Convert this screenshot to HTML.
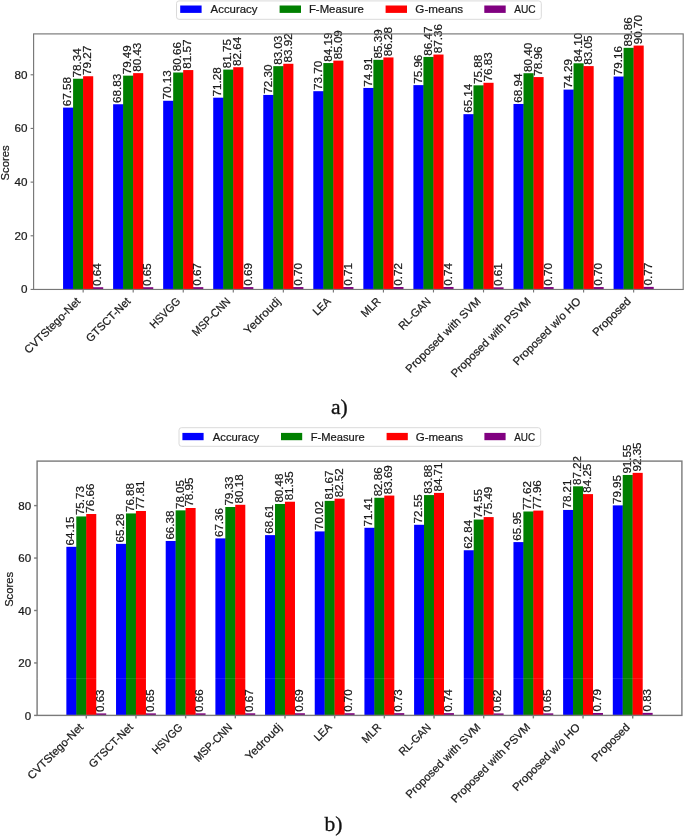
<!DOCTYPE html>
<html><head><meta charset="utf-8"><title>Scores comparison</title>
<style>html,body{margin:0;padding:0;background:#fff;} svg{display:block;will-change:transform;filter:blur(0.35px);} text{font-family:"Liberation Sans", sans-serif;fill:#1a1a1a;stroke:#1a1a1a;stroke-width:0.22px;}</style>
</head><body>
<svg width="685" height="837" viewBox="0 0 685 837">
<rect width="685" height="837" fill="#fff"/>
<rect x="63.08" y="107.61" width="10.11" height="181.84" fill="#0000ff"/>
<rect x="73.09" y="107.61" width="0.6" height="181.84" fill="#0000ff"/>
<rect x="73.09" y="78.74" width="10.11" height="210.71" fill="#008000"/>
<rect x="83.10" y="78.74" width="0.6" height="210.71" fill="#008000"/>
<rect x="83.10" y="76.24" width="10.11" height="213.21" fill="#ff0000"/>
<rect x="93.11" y="287.23" width="0.6" height="2.22" fill="#ff0000"/>
<rect x="93.11" y="287.23" width="10.11" height="2.22" fill="#800080"/>
<rect x="113.12" y="104.25" width="10.11" height="185.20" fill="#0000ff"/>
<rect x="123.13" y="104.25" width="0.6" height="185.20" fill="#0000ff"/>
<rect x="123.13" y="75.65" width="10.11" height="213.80" fill="#008000"/>
<rect x="133.14" y="75.65" width="0.6" height="213.80" fill="#008000"/>
<rect x="133.14" y="73.13" width="10.11" height="216.32" fill="#ff0000"/>
<rect x="143.15" y="287.21" width="0.6" height="2.24" fill="#ff0000"/>
<rect x="143.15" y="287.21" width="10.11" height="2.24" fill="#800080"/>
<rect x="163.17" y="100.77" width="10.11" height="188.68" fill="#0000ff"/>
<rect x="173.18" y="100.77" width="0.6" height="188.68" fill="#0000ff"/>
<rect x="173.18" y="72.51" width="10.11" height="216.94" fill="#008000"/>
<rect x="183.19" y="72.51" width="0.6" height="216.94" fill="#008000"/>
<rect x="183.19" y="70.07" width="10.11" height="219.38" fill="#ff0000"/>
<rect x="193.20" y="287.15" width="0.6" height="2.30" fill="#ff0000"/>
<rect x="193.20" y="287.15" width="10.11" height="2.30" fill="#800080"/>
<rect x="213.22" y="97.68" width="10.11" height="191.77" fill="#0000ff"/>
<rect x="223.23" y="97.68" width="0.6" height="191.77" fill="#0000ff"/>
<rect x="223.23" y="69.59" width="10.11" height="219.86" fill="#008000"/>
<rect x="233.23" y="69.59" width="0.6" height="219.86" fill="#008000"/>
<rect x="233.23" y="67.20" width="10.11" height="222.25" fill="#ff0000"/>
<rect x="243.24" y="287.10" width="0.6" height="2.35" fill="#ff0000"/>
<rect x="243.24" y="287.10" width="10.11" height="2.35" fill="#800080"/>
<rect x="263.26" y="94.94" width="10.11" height="194.51" fill="#0000ff"/>
<rect x="273.27" y="94.94" width="0.6" height="194.51" fill="#0000ff"/>
<rect x="273.27" y="66.15" width="10.11" height="223.30" fill="#008000"/>
<rect x="283.28" y="66.15" width="0.6" height="223.30" fill="#008000"/>
<rect x="283.28" y="63.76" width="10.11" height="225.69" fill="#ff0000"/>
<rect x="293.29" y="287.07" width="0.6" height="2.38" fill="#ff0000"/>
<rect x="293.29" y="287.07" width="10.11" height="2.38" fill="#800080"/>
<rect x="313.31" y="91.19" width="10.11" height="198.26" fill="#0000ff"/>
<rect x="323.32" y="91.19" width="0.6" height="198.26" fill="#0000ff"/>
<rect x="323.32" y="63.04" width="10.11" height="226.41" fill="#008000"/>
<rect x="333.33" y="63.04" width="0.6" height="226.41" fill="#008000"/>
<rect x="333.33" y="60.62" width="10.11" height="228.83" fill="#ff0000"/>
<rect x="343.34" y="287.04" width="0.6" height="2.41" fill="#ff0000"/>
<rect x="343.34" y="287.04" width="10.11" height="2.41" fill="#800080"/>
<rect x="363.35" y="87.94" width="10.11" height="201.51" fill="#0000ff"/>
<rect x="373.36" y="87.94" width="0.6" height="201.51" fill="#0000ff"/>
<rect x="373.36" y="59.82" width="10.11" height="229.63" fill="#008000"/>
<rect x="383.37" y="59.82" width="0.6" height="229.63" fill="#008000"/>
<rect x="383.37" y="57.43" width="10.11" height="232.02" fill="#ff0000"/>
<rect x="393.38" y="287.02" width="0.6" height="2.43" fill="#ff0000"/>
<rect x="393.38" y="287.02" width="10.11" height="2.43" fill="#800080"/>
<rect x="413.40" y="85.12" width="10.11" height="204.33" fill="#0000ff"/>
<rect x="423.41" y="85.12" width="0.6" height="204.33" fill="#0000ff"/>
<rect x="423.41" y="56.92" width="10.11" height="232.53" fill="#008000"/>
<rect x="433.42" y="56.92" width="0.6" height="232.53" fill="#008000"/>
<rect x="433.42" y="54.53" width="10.11" height="234.92" fill="#ff0000"/>
<rect x="443.43" y="286.96" width="0.6" height="2.49" fill="#ff0000"/>
<rect x="443.43" y="286.96" width="10.11" height="2.49" fill="#800080"/>
<rect x="463.45" y="114.16" width="10.11" height="175.29" fill="#0000ff"/>
<rect x="473.46" y="114.16" width="0.6" height="175.29" fill="#0000ff"/>
<rect x="473.46" y="85.34" width="10.11" height="204.11" fill="#008000"/>
<rect x="483.47" y="85.34" width="0.6" height="204.11" fill="#008000"/>
<rect x="483.47" y="82.79" width="10.11" height="206.66" fill="#ff0000"/>
<rect x="493.47" y="287.31" width="0.6" height="2.14" fill="#ff0000"/>
<rect x="493.47" y="287.31" width="10.11" height="2.14" fill="#800080"/>
<rect x="513.49" y="103.96" width="10.11" height="185.49" fill="#0000ff"/>
<rect x="523.50" y="103.96" width="0.6" height="185.49" fill="#0000ff"/>
<rect x="523.50" y="73.21" width="10.11" height="216.24" fill="#008000"/>
<rect x="533.51" y="77.07" width="0.6" height="212.38" fill="#008000"/>
<rect x="533.51" y="77.07" width="10.11" height="212.38" fill="#ff0000"/>
<rect x="543.52" y="287.07" width="0.6" height="2.38" fill="#ff0000"/>
<rect x="543.52" y="287.07" width="10.11" height="2.38" fill="#800080"/>
<rect x="563.54" y="89.60" width="10.11" height="199.85" fill="#0000ff"/>
<rect x="573.55" y="89.60" width="0.6" height="199.85" fill="#0000ff"/>
<rect x="573.55" y="63.28" width="10.11" height="226.17" fill="#008000"/>
<rect x="583.56" y="66.10" width="0.6" height="223.35" fill="#008000"/>
<rect x="583.56" y="66.10" width="10.11" height="223.35" fill="#ff0000"/>
<rect x="593.57" y="287.07" width="0.6" height="2.38" fill="#ff0000"/>
<rect x="593.57" y="287.07" width="10.11" height="2.38" fill="#800080"/>
<rect x="613.59" y="76.54" width="10.11" height="212.91" fill="#0000ff"/>
<rect x="623.59" y="76.54" width="0.6" height="212.91" fill="#0000ff"/>
<rect x="623.59" y="47.82" width="10.11" height="241.63" fill="#008000"/>
<rect x="633.60" y="47.82" width="0.6" height="241.63" fill="#008000"/>
<rect x="633.60" y="45.57" width="10.11" height="243.88" fill="#ff0000"/>
<rect x="643.61" y="286.88" width="0.6" height="2.57" fill="#ff0000"/>
<rect x="643.61" y="286.88" width="10.11" height="2.57" fill="#800080"/>
<text x="71.35" y="106.31" font-size="10.81" text-anchor="start" textLength="29.20" lengthAdjust="spacingAndGlyphs" transform="rotate(-90.00 71.35 106.31)">67.58</text>
<text x="81.36" y="77.44" font-size="10.81" text-anchor="start" textLength="29.20" lengthAdjust="spacingAndGlyphs" transform="rotate(-90.00 81.36 77.44)">78.34</text>
<text x="91.36" y="74.94" font-size="10.81" text-anchor="start" textLength="29.20" lengthAdjust="spacingAndGlyphs" transform="rotate(-90.00 91.36 74.94)">79.27</text>
<text x="101.37" y="285.93" font-size="10.81" text-anchor="start" textLength="22.71" lengthAdjust="spacingAndGlyphs" transform="rotate(-90.00 101.37 285.93)">0.64</text>
<text x="121.39" y="102.95" font-size="10.81" text-anchor="start" textLength="29.20" lengthAdjust="spacingAndGlyphs" transform="rotate(-90.00 121.39 102.95)">68.83</text>
<text x="131.40" y="74.35" font-size="10.81" text-anchor="start" textLength="29.20" lengthAdjust="spacingAndGlyphs" transform="rotate(-90.00 131.40 74.35)">79.49</text>
<text x="141.41" y="71.83" font-size="10.81" text-anchor="start" textLength="29.20" lengthAdjust="spacingAndGlyphs" transform="rotate(-90.00 141.41 71.83)">80.43</text>
<text x="151.42" y="285.91" font-size="10.81" text-anchor="start" textLength="22.71" lengthAdjust="spacingAndGlyphs" transform="rotate(-90.00 151.42 285.91)">0.65</text>
<text x="171.44" y="99.47" font-size="10.81" text-anchor="start" textLength="29.20" lengthAdjust="spacingAndGlyphs" transform="rotate(-90.00 171.44 99.47)">70.13</text>
<text x="181.45" y="71.21" font-size="10.81" text-anchor="start" textLength="29.20" lengthAdjust="spacingAndGlyphs" transform="rotate(-90.00 181.45 71.21)">80.66</text>
<text x="191.46" y="68.77" font-size="10.81" text-anchor="start" textLength="29.20" lengthAdjust="spacingAndGlyphs" transform="rotate(-90.00 191.46 68.77)">81.57</text>
<text x="201.47" y="285.85" font-size="10.81" text-anchor="start" textLength="22.71" lengthAdjust="spacingAndGlyphs" transform="rotate(-90.00 201.47 285.85)">0.67</text>
<text x="221.48" y="96.38" font-size="10.81" text-anchor="start" textLength="29.20" lengthAdjust="spacingAndGlyphs" transform="rotate(-90.00 221.48 96.38)">71.28</text>
<text x="231.49" y="68.29" font-size="10.81" text-anchor="start" textLength="29.20" lengthAdjust="spacingAndGlyphs" transform="rotate(-90.00 231.49 68.29)">81.75</text>
<text x="241.50" y="65.90" font-size="10.81" text-anchor="start" textLength="29.20" lengthAdjust="spacingAndGlyphs" transform="rotate(-90.00 241.50 65.90)">82.64</text>
<text x="251.51" y="285.80" font-size="10.81" text-anchor="start" textLength="22.71" lengthAdjust="spacingAndGlyphs" transform="rotate(-90.00 251.51 285.80)">0.69</text>
<text x="271.53" y="93.64" font-size="10.81" text-anchor="start" textLength="29.20" lengthAdjust="spacingAndGlyphs" transform="rotate(-90.00 271.53 93.64)">72.30</text>
<text x="281.54" y="64.85" font-size="10.81" text-anchor="start" textLength="29.20" lengthAdjust="spacingAndGlyphs" transform="rotate(-90.00 281.54 64.85)">83.03</text>
<text x="291.55" y="62.46" font-size="10.81" text-anchor="start" textLength="29.20" lengthAdjust="spacingAndGlyphs" transform="rotate(-90.00 291.55 62.46)">83.92</text>
<text x="301.56" y="285.77" font-size="10.81" text-anchor="start" textLength="22.71" lengthAdjust="spacingAndGlyphs" transform="rotate(-90.00 301.56 285.77)">0.70</text>
<text x="321.58" y="89.89" font-size="10.81" text-anchor="start" textLength="29.20" lengthAdjust="spacingAndGlyphs" transform="rotate(-90.00 321.58 89.89)">73.70</text>
<text x="331.59" y="61.74" font-size="10.81" text-anchor="start" textLength="29.20" lengthAdjust="spacingAndGlyphs" transform="rotate(-90.00 331.59 61.74)">84.19</text>
<text x="341.60" y="59.32" font-size="10.81" text-anchor="start" textLength="29.20" lengthAdjust="spacingAndGlyphs" transform="rotate(-90.00 341.60 59.32)">85.09</text>
<text x="351.60" y="285.74" font-size="10.81" text-anchor="start" textLength="22.71" lengthAdjust="spacingAndGlyphs" transform="rotate(-90.00 351.60 285.74)">0.71</text>
<text x="371.62" y="86.64" font-size="10.81" text-anchor="start" textLength="29.20" lengthAdjust="spacingAndGlyphs" transform="rotate(-90.00 371.62 86.64)">74.91</text>
<text x="381.63" y="58.52" font-size="10.81" text-anchor="start" textLength="29.20" lengthAdjust="spacingAndGlyphs" transform="rotate(-90.00 381.63 58.52)">85.39</text>
<text x="391.64" y="56.13" font-size="10.81" text-anchor="start" textLength="29.20" lengthAdjust="spacingAndGlyphs" transform="rotate(-90.00 391.64 56.13)">86.28</text>
<text x="401.65" y="285.72" font-size="10.81" text-anchor="start" textLength="22.71" lengthAdjust="spacingAndGlyphs" transform="rotate(-90.00 401.65 285.72)">0.72</text>
<text x="421.67" y="83.82" font-size="10.81" text-anchor="start" textLength="29.20" lengthAdjust="spacingAndGlyphs" transform="rotate(-90.00 421.67 83.82)">75.96</text>
<text x="431.68" y="55.62" font-size="10.81" text-anchor="start" textLength="29.20" lengthAdjust="spacingAndGlyphs" transform="rotate(-90.00 431.68 55.62)">86.47</text>
<text x="441.69" y="53.23" font-size="10.81" text-anchor="start" textLength="29.20" lengthAdjust="spacingAndGlyphs" transform="rotate(-90.00 441.69 53.23)">87.36</text>
<text x="451.70" y="285.66" font-size="10.81" text-anchor="start" textLength="22.71" lengthAdjust="spacingAndGlyphs" transform="rotate(-90.00 451.70 285.66)">0.74</text>
<text x="471.72" y="112.86" font-size="10.81" text-anchor="start" textLength="29.20" lengthAdjust="spacingAndGlyphs" transform="rotate(-90.00 471.72 112.86)">65.14</text>
<text x="481.73" y="84.04" font-size="10.81" text-anchor="start" textLength="29.20" lengthAdjust="spacingAndGlyphs" transform="rotate(-90.00 481.73 84.04)">75.88</text>
<text x="491.73" y="81.49" font-size="10.81" text-anchor="start" textLength="29.20" lengthAdjust="spacingAndGlyphs" transform="rotate(-90.00 491.73 81.49)">76.83</text>
<text x="501.74" y="286.01" font-size="10.81" text-anchor="start" textLength="22.71" lengthAdjust="spacingAndGlyphs" transform="rotate(-90.00 501.74 286.01)">0.61</text>
<text x="521.76" y="102.66" font-size="10.81" text-anchor="start" textLength="29.20" lengthAdjust="spacingAndGlyphs" transform="rotate(-90.00 521.76 102.66)">68.94</text>
<text x="531.77" y="71.91" font-size="10.81" text-anchor="start" textLength="29.20" lengthAdjust="spacingAndGlyphs" transform="rotate(-90.00 531.77 71.91)">80.40</text>
<text x="541.78" y="75.77" font-size="10.81" text-anchor="start" textLength="29.20" lengthAdjust="spacingAndGlyphs" transform="rotate(-90.00 541.78 75.77)">78.96</text>
<text x="551.79" y="285.77" font-size="10.81" text-anchor="start" textLength="22.71" lengthAdjust="spacingAndGlyphs" transform="rotate(-90.00 551.79 285.77)">0.70</text>
<text x="571.81" y="88.30" font-size="10.81" text-anchor="start" textLength="29.20" lengthAdjust="spacingAndGlyphs" transform="rotate(-90.00 571.81 88.30)">74.29</text>
<text x="581.82" y="61.98" font-size="10.81" text-anchor="start" textLength="29.20" lengthAdjust="spacingAndGlyphs" transform="rotate(-90.00 581.82 61.98)">84.10</text>
<text x="591.83" y="64.80" font-size="10.81" text-anchor="start" textLength="29.20" lengthAdjust="spacingAndGlyphs" transform="rotate(-90.00 591.83 64.80)">83.05</text>
<text x="601.84" y="285.77" font-size="10.81" text-anchor="start" textLength="22.71" lengthAdjust="spacingAndGlyphs" transform="rotate(-90.00 601.84 285.77)">0.70</text>
<text x="621.85" y="75.24" font-size="10.81" text-anchor="start" textLength="29.20" lengthAdjust="spacingAndGlyphs" transform="rotate(-90.00 621.85 75.24)">79.16</text>
<text x="631.86" y="46.52" font-size="10.81" text-anchor="start" textLength="29.20" lengthAdjust="spacingAndGlyphs" transform="rotate(-90.00 631.86 46.52)">89.86</text>
<text x="641.87" y="44.27" font-size="10.81" text-anchor="start" textLength="29.20" lengthAdjust="spacingAndGlyphs" transform="rotate(-90.00 641.87 44.27)">90.70</text>
<text x="651.88" y="285.58" font-size="10.81" text-anchor="start" textLength="22.71" lengthAdjust="spacingAndGlyphs" transform="rotate(-90.00 651.88 285.58)">0.77</text>
<rect x="33.60" y="33.90" width="649.60" height="255.55" fill="none" stroke="#777" stroke-width="1.15"/>
<line x1="30.60" y1="289.45" x2="33.60" y2="289.45" stroke="#777" stroke-width="1.15"/>
<text x="27.60" y="293.35" font-size="10.81" text-anchor="end" textLength="6.49" lengthAdjust="spacingAndGlyphs">0</text>
<line x1="30.60" y1="235.78" x2="33.60" y2="235.78" stroke="#777" stroke-width="1.15"/>
<text x="27.60" y="239.68" font-size="10.81" text-anchor="end" textLength="12.98" lengthAdjust="spacingAndGlyphs">20</text>
<line x1="30.60" y1="182.12" x2="33.60" y2="182.12" stroke="#777" stroke-width="1.15"/>
<text x="27.60" y="186.02" font-size="10.81" text-anchor="end" textLength="12.98" lengthAdjust="spacingAndGlyphs">40</text>
<line x1="30.60" y1="128.45" x2="33.60" y2="128.45" stroke="#777" stroke-width="1.15"/>
<text x="27.60" y="132.35" font-size="10.81" text-anchor="end" textLength="12.98" lengthAdjust="spacingAndGlyphs">60</text>
<line x1="30.60" y1="74.78" x2="33.60" y2="74.78" stroke="#777" stroke-width="1.15"/>
<text x="27.60" y="78.68" font-size="10.81" text-anchor="end" textLength="12.98" lengthAdjust="spacingAndGlyphs">80</text>
<line x1="83.15" y1="289.45" x2="83.15" y2="292.45" stroke="#777" stroke-width="1.15"/>
<text x="81.09" y="302.02" font-size="11.18" text-anchor="end" textLength="73.83" lengthAdjust="spacingAndGlyphs" transform="rotate(-45.00 81.09 302.02)">CVTStego-Net</text>
<line x1="133.19" y1="289.45" x2="133.19" y2="292.45" stroke="#777" stroke-width="1.15"/>
<text x="131.14" y="302.02" font-size="11.18" text-anchor="end" textLength="57.45" lengthAdjust="spacingAndGlyphs" transform="rotate(-45.00 131.14 302.02)">GTSCT-Net</text>
<line x1="183.24" y1="289.45" x2="183.24" y2="292.45" stroke="#777" stroke-width="1.15"/>
<text x="181.19" y="302.02" font-size="11.18" text-anchor="end" textLength="38.20" lengthAdjust="spacingAndGlyphs" transform="rotate(-45.00 181.19 302.02)">HSVGG</text>
<line x1="233.28" y1="289.45" x2="233.28" y2="292.45" stroke="#777" stroke-width="1.15"/>
<text x="231.23" y="302.02" font-size="11.18" text-anchor="end" textLength="49.12" lengthAdjust="spacingAndGlyphs" transform="rotate(-45.00 231.23 302.02)">MSP-CNN</text>
<line x1="283.33" y1="289.45" x2="283.33" y2="292.45" stroke="#777" stroke-width="1.15"/>
<text x="281.28" y="302.02" font-size="11.18" text-anchor="end" textLength="46.74" lengthAdjust="spacingAndGlyphs" transform="rotate(-45.00 281.28 302.02)">Yedroudj</text>
<line x1="333.38" y1="289.45" x2="333.38" y2="292.45" stroke="#777" stroke-width="1.15"/>
<text x="331.33" y="302.02" font-size="11.18" text-anchor="end" textLength="19.76" lengthAdjust="spacingAndGlyphs" transform="rotate(-45.00 331.33 302.02)">LEA</text>
<line x1="383.42" y1="289.45" x2="383.42" y2="292.45" stroke="#777" stroke-width="1.15"/>
<text x="381.37" y="302.02" font-size="11.18" text-anchor="end" textLength="22.31" lengthAdjust="spacingAndGlyphs" transform="rotate(-45.00 381.37 302.02)">MLR</text>
<line x1="433.47" y1="289.45" x2="433.47" y2="292.45" stroke="#777" stroke-width="1.15"/>
<text x="431.42" y="302.02" font-size="11.18" text-anchor="end" textLength="40.30" lengthAdjust="spacingAndGlyphs" transform="rotate(-45.00 431.42 302.02)">RL-GAN</text>
<line x1="483.52" y1="289.45" x2="483.52" y2="292.45" stroke="#777" stroke-width="1.15"/>
<text x="481.46" y="302.02" font-size="11.18" text-anchor="end" textLength="101.10" lengthAdjust="spacingAndGlyphs" transform="rotate(-45.00 481.46 302.02)">Proposed with SVM</text>
<line x1="533.56" y1="289.45" x2="533.56" y2="292.45" stroke="#777" stroke-width="1.15"/>
<text x="531.51" y="302.02" font-size="11.18" text-anchor="end" textLength="107.46" lengthAdjust="spacingAndGlyphs" transform="rotate(-45.00 531.51 302.02)">Proposed with PSVM</text>
<line x1="583.61" y1="289.45" x2="583.61" y2="292.45" stroke="#777" stroke-width="1.15"/>
<text x="581.56" y="302.02" font-size="11.18" text-anchor="end" textLength="90.57" lengthAdjust="spacingAndGlyphs" transform="rotate(-45.00 581.56 302.02)">Proposed w/o HO</text>
<line x1="633.65" y1="289.45" x2="633.65" y2="292.45" stroke="#777" stroke-width="1.15"/>
<text x="631.60" y="302.02" font-size="11.18" text-anchor="end" textLength="48.99" lengthAdjust="spacingAndGlyphs" transform="rotate(-45.00 631.60 302.02)">Proposed</text>
<text x="8.70" y="162.90" font-size="11.13" text-anchor="middle" textLength="35.11" lengthAdjust="spacingAndGlyphs" transform="rotate(-90.00 8.70 162.90)">Scores</text>
<rect x="176.50" y="0.90" width="364.80" height="18.40" rx="2.5" fill="#fff" fill-opacity="0.8" stroke="#d6d6d6" stroke-width="0.9"/>
<rect x="180.20" y="5.50" width="21.40" height="7.40" fill="#0000ff"/>
<text x="210.63" y="13.25" font-size="10.81" textLength="46.74" lengthAdjust="spacingAndGlyphs">Accuracy</text>
<rect x="279.60" y="5.50" width="21.40" height="7.40" fill="#008000"/>
<text x="308.92" y="13.25" font-size="10.81" textLength="54.94" lengthAdjust="spacingAndGlyphs">F-Measure</text>
<rect x="385.60" y="5.50" width="21.40" height="7.40" fill="#ff0000"/>
<text x="415.37" y="13.25" font-size="10.81" textLength="47.80" lengthAdjust="spacingAndGlyphs">G-means</text>
<rect x="484.30" y="5.50" width="21.40" height="7.40" fill="#800080"/>
<text x="514.23" y="13.25" font-size="10.81" textLength="21.41" lengthAdjust="spacingAndGlyphs">AUC</text>
<rect x="66.36" y="546.81" width="10.04" height="168.59" fill="#0000ff"/>
<rect x="76.29" y="546.81" width="0.6" height="168.59" fill="#0000ff"/>
<rect x="76.29" y="516.45" width="10.04" height="198.95" fill="#008000"/>
<rect x="86.23" y="516.45" width="0.6" height="198.95" fill="#008000"/>
<rect x="86.23" y="514.01" width="10.04" height="201.39" fill="#ff0000"/>
<rect x="96.16" y="713.40" width="0.6" height="2.00" fill="#ff0000"/>
<rect x="96.16" y="713.40" width="10.04" height="2.00" fill="#800080"/>
<rect x="116.04" y="543.85" width="10.04" height="171.55" fill="#0000ff"/>
<rect x="125.97" y="543.85" width="0.6" height="171.55" fill="#0000ff"/>
<rect x="125.97" y="513.43" width="10.04" height="201.97" fill="#008000"/>
<rect x="135.91" y="513.43" width="0.6" height="201.97" fill="#008000"/>
<rect x="135.91" y="510.99" width="10.04" height="204.41" fill="#ff0000"/>
<rect x="145.84" y="713.35" width="0.6" height="2.05" fill="#ff0000"/>
<rect x="145.84" y="713.35" width="10.04" height="2.05" fill="#800080"/>
<rect x="165.71" y="540.97" width="10.04" height="174.43" fill="#0000ff"/>
<rect x="175.65" y="540.97" width="0.6" height="174.43" fill="#0000ff"/>
<rect x="175.65" y="510.36" width="10.04" height="205.04" fill="#008000"/>
<rect x="185.58" y="510.36" width="0.6" height="205.04" fill="#008000"/>
<rect x="185.58" y="508.00" width="10.04" height="207.40" fill="#ff0000"/>
<rect x="195.52" y="713.32" width="0.6" height="2.08" fill="#ff0000"/>
<rect x="195.52" y="713.32" width="10.04" height="2.08" fill="#800080"/>
<rect x="215.39" y="538.40" width="10.04" height="177.00" fill="#0000ff"/>
<rect x="225.32" y="538.40" width="0.6" height="177.00" fill="#0000ff"/>
<rect x="225.32" y="507.00" width="10.04" height="208.40" fill="#008000"/>
<rect x="235.26" y="507.00" width="0.6" height="208.40" fill="#008000"/>
<rect x="235.26" y="504.78" width="10.04" height="210.62" fill="#ff0000"/>
<rect x="245.19" y="713.29" width="0.6" height="2.11" fill="#ff0000"/>
<rect x="245.19" y="713.29" width="10.04" height="2.11" fill="#800080"/>
<rect x="265.06" y="535.12" width="10.04" height="180.28" fill="#0000ff"/>
<rect x="275.00" y="535.12" width="0.6" height="180.28" fill="#0000ff"/>
<rect x="275.00" y="503.99" width="10.04" height="211.41" fill="#008000"/>
<rect x="284.94" y="503.99" width="0.6" height="211.41" fill="#008000"/>
<rect x="284.94" y="501.71" width="10.04" height="213.69" fill="#ff0000"/>
<rect x="294.87" y="713.24" width="0.6" height="2.16" fill="#ff0000"/>
<rect x="294.87" y="713.24" width="10.04" height="2.16" fill="#800080"/>
<rect x="314.74" y="531.42" width="10.04" height="183.98" fill="#0000ff"/>
<rect x="324.68" y="531.42" width="0.6" height="183.98" fill="#0000ff"/>
<rect x="324.68" y="500.87" width="10.04" height="214.53" fill="#008000"/>
<rect x="334.61" y="500.87" width="0.6" height="214.53" fill="#008000"/>
<rect x="334.61" y="498.64" width="10.04" height="216.76" fill="#ff0000"/>
<rect x="344.55" y="713.21" width="0.6" height="2.19" fill="#ff0000"/>
<rect x="344.55" y="713.21" width="10.04" height="2.19" fill="#800080"/>
<rect x="364.42" y="527.78" width="10.04" height="187.62" fill="#0000ff"/>
<rect x="374.35" y="527.78" width="0.6" height="187.62" fill="#0000ff"/>
<rect x="374.35" y="497.75" width="10.04" height="217.65" fill="#008000"/>
<rect x="384.29" y="497.75" width="0.6" height="217.65" fill="#008000"/>
<rect x="384.29" y="495.57" width="10.04" height="219.83" fill="#ff0000"/>
<rect x="394.22" y="713.14" width="0.6" height="2.26" fill="#ff0000"/>
<rect x="394.22" y="713.14" width="10.04" height="2.26" fill="#800080"/>
<rect x="414.09" y="524.79" width="10.04" height="190.61" fill="#0000ff"/>
<rect x="424.03" y="524.79" width="0.6" height="190.61" fill="#0000ff"/>
<rect x="424.03" y="495.07" width="10.04" height="220.33" fill="#008000"/>
<rect x="433.96" y="495.07" width="0.6" height="220.33" fill="#008000"/>
<rect x="433.96" y="492.90" width="10.04" height="222.50" fill="#ff0000"/>
<rect x="443.90" y="713.11" width="0.6" height="2.29" fill="#ff0000"/>
<rect x="443.90" y="713.11" width="10.04" height="2.29" fill="#800080"/>
<rect x="463.77" y="550.25" width="10.04" height="165.15" fill="#0000ff"/>
<rect x="473.71" y="550.25" width="0.6" height="165.15" fill="#0000ff"/>
<rect x="473.71" y="519.54" width="10.04" height="195.86" fill="#008000"/>
<rect x="483.64" y="519.54" width="0.6" height="195.86" fill="#008000"/>
<rect x="483.64" y="517.08" width="10.04" height="198.32" fill="#ff0000"/>
<rect x="493.58" y="713.42" width="0.6" height="1.98" fill="#ff0000"/>
<rect x="493.58" y="713.42" width="10.04" height="1.98" fill="#800080"/>
<rect x="513.45" y="542.09" width="10.04" height="173.31" fill="#0000ff"/>
<rect x="523.38" y="542.09" width="0.6" height="173.31" fill="#0000ff"/>
<rect x="523.38" y="511.49" width="10.04" height="203.91" fill="#008000"/>
<rect x="533.32" y="511.49" width="0.6" height="203.91" fill="#008000"/>
<rect x="533.32" y="510.60" width="10.04" height="204.80" fill="#ff0000"/>
<rect x="543.25" y="713.35" width="0.6" height="2.05" fill="#ff0000"/>
<rect x="543.25" y="713.35" width="10.04" height="2.05" fill="#800080"/>
<rect x="563.12" y="509.94" width="10.04" height="205.46" fill="#0000ff"/>
<rect x="573.06" y="509.94" width="0.6" height="205.46" fill="#0000ff"/>
<rect x="573.06" y="486.31" width="10.04" height="229.09" fill="#008000"/>
<rect x="582.99" y="494.10" width="0.6" height="221.30" fill="#008000"/>
<rect x="582.99" y="494.10" width="10.04" height="221.30" fill="#ff0000"/>
<rect x="592.93" y="712.98" width="0.6" height="2.42" fill="#ff0000"/>
<rect x="592.93" y="712.98" width="10.04" height="2.42" fill="#800080"/>
<rect x="612.80" y="505.38" width="10.04" height="210.02" fill="#0000ff"/>
<rect x="622.74" y="505.38" width="0.6" height="210.02" fill="#0000ff"/>
<rect x="622.74" y="474.96" width="10.04" height="240.44" fill="#008000"/>
<rect x="632.67" y="474.96" width="0.6" height="240.44" fill="#008000"/>
<rect x="632.67" y="472.86" width="10.04" height="242.54" fill="#ff0000"/>
<rect x="642.61" y="712.87" width="0.6" height="2.53" fill="#ff0000"/>
<rect x="642.61" y="712.87" width="10.04" height="2.53" fill="#800080"/>
<text x="74.27" y="545.41" font-size="10.73" text-anchor="start" textLength="28.97" lengthAdjust="spacingAndGlyphs" transform="rotate(-90.00 74.27 545.41)">64.15</text>
<text x="84.20" y="515.05" font-size="10.73" text-anchor="start" textLength="28.97" lengthAdjust="spacingAndGlyphs" transform="rotate(-90.00 84.20 515.05)">75.73</text>
<text x="94.14" y="512.61" font-size="10.73" text-anchor="start" textLength="28.97" lengthAdjust="spacingAndGlyphs" transform="rotate(-90.00 94.14 512.61)">76.66</text>
<text x="104.07" y="712.00" font-size="10.73" text-anchor="start" textLength="22.53" lengthAdjust="spacingAndGlyphs" transform="rotate(-90.00 104.07 712.00)">0.63</text>
<text x="123.95" y="542.45" font-size="10.73" text-anchor="start" textLength="28.97" lengthAdjust="spacingAndGlyphs" transform="rotate(-90.00 123.95 542.45)">65.28</text>
<text x="133.88" y="512.03" font-size="10.73" text-anchor="start" textLength="28.97" lengthAdjust="spacingAndGlyphs" transform="rotate(-90.00 133.88 512.03)">76.88</text>
<text x="143.82" y="509.59" font-size="10.73" text-anchor="start" textLength="28.97" lengthAdjust="spacingAndGlyphs" transform="rotate(-90.00 143.82 509.59)">77.81</text>
<text x="153.75" y="711.95" font-size="10.73" text-anchor="start" textLength="22.53" lengthAdjust="spacingAndGlyphs" transform="rotate(-90.00 153.75 711.95)">0.65</text>
<text x="173.62" y="539.57" font-size="10.73" text-anchor="start" textLength="28.97" lengthAdjust="spacingAndGlyphs" transform="rotate(-90.00 173.62 539.57)">66.38</text>
<text x="183.56" y="508.96" font-size="10.73" text-anchor="start" textLength="28.97" lengthAdjust="spacingAndGlyphs" transform="rotate(-90.00 183.56 508.96)">78.05</text>
<text x="193.49" y="506.60" font-size="10.73" text-anchor="start" textLength="28.97" lengthAdjust="spacingAndGlyphs" transform="rotate(-90.00 193.49 506.60)">78.95</text>
<text x="203.43" y="711.92" font-size="10.73" text-anchor="start" textLength="22.53" lengthAdjust="spacingAndGlyphs" transform="rotate(-90.00 203.43 711.92)">0.66</text>
<text x="223.30" y="537.00" font-size="10.73" text-anchor="start" textLength="28.97" lengthAdjust="spacingAndGlyphs" transform="rotate(-90.00 223.30 537.00)">67.36</text>
<text x="233.23" y="505.60" font-size="10.73" text-anchor="start" textLength="28.97" lengthAdjust="spacingAndGlyphs" transform="rotate(-90.00 233.23 505.60)">79.33</text>
<text x="243.17" y="503.38" font-size="10.73" text-anchor="start" textLength="28.97" lengthAdjust="spacingAndGlyphs" transform="rotate(-90.00 243.17 503.38)">80.18</text>
<text x="253.10" y="711.89" font-size="10.73" text-anchor="start" textLength="22.53" lengthAdjust="spacingAndGlyphs" transform="rotate(-90.00 253.10 711.89)">0.67</text>
<text x="272.97" y="533.72" font-size="10.73" text-anchor="start" textLength="28.97" lengthAdjust="spacingAndGlyphs" transform="rotate(-90.00 272.97 533.72)">68.61</text>
<text x="282.91" y="502.59" font-size="10.73" text-anchor="start" textLength="28.97" lengthAdjust="spacingAndGlyphs" transform="rotate(-90.00 282.91 502.59)">80.48</text>
<text x="292.85" y="500.31" font-size="10.73" text-anchor="start" textLength="28.97" lengthAdjust="spacingAndGlyphs" transform="rotate(-90.00 292.85 500.31)">81.35</text>
<text x="302.78" y="711.84" font-size="10.73" text-anchor="start" textLength="22.53" lengthAdjust="spacingAndGlyphs" transform="rotate(-90.00 302.78 711.84)">0.69</text>
<text x="322.65" y="530.02" font-size="10.73" text-anchor="start" textLength="28.97" lengthAdjust="spacingAndGlyphs" transform="rotate(-90.00 322.65 530.02)">70.02</text>
<text x="332.59" y="499.47" font-size="10.73" text-anchor="start" textLength="28.97" lengthAdjust="spacingAndGlyphs" transform="rotate(-90.00 332.59 499.47)">81.67</text>
<text x="342.52" y="497.24" font-size="10.73" text-anchor="start" textLength="28.97" lengthAdjust="spacingAndGlyphs" transform="rotate(-90.00 342.52 497.24)">82.52</text>
<text x="352.46" y="711.81" font-size="10.73" text-anchor="start" textLength="22.53" lengthAdjust="spacingAndGlyphs" transform="rotate(-90.00 352.46 711.81)">0.70</text>
<text x="372.33" y="526.38" font-size="10.73" text-anchor="start" textLength="28.97" lengthAdjust="spacingAndGlyphs" transform="rotate(-90.00 372.33 526.38)">71.41</text>
<text x="382.26" y="496.35" font-size="10.73" text-anchor="start" textLength="28.97" lengthAdjust="spacingAndGlyphs" transform="rotate(-90.00 382.26 496.35)">82.86</text>
<text x="392.20" y="494.17" font-size="10.73" text-anchor="start" textLength="28.97" lengthAdjust="spacingAndGlyphs" transform="rotate(-90.00 392.20 494.17)">83.69</text>
<text x="402.13" y="711.74" font-size="10.73" text-anchor="start" textLength="22.53" lengthAdjust="spacingAndGlyphs" transform="rotate(-90.00 402.13 711.74)">0.73</text>
<text x="422.00" y="523.39" font-size="10.73" text-anchor="start" textLength="28.97" lengthAdjust="spacingAndGlyphs" transform="rotate(-90.00 422.00 523.39)">72.55</text>
<text x="431.94" y="493.67" font-size="10.73" text-anchor="start" textLength="28.97" lengthAdjust="spacingAndGlyphs" transform="rotate(-90.00 431.94 493.67)">83.88</text>
<text x="441.87" y="491.50" font-size="10.73" text-anchor="start" textLength="28.97" lengthAdjust="spacingAndGlyphs" transform="rotate(-90.00 441.87 491.50)">84.71</text>
<text x="451.81" y="711.71" font-size="10.73" text-anchor="start" textLength="22.53" lengthAdjust="spacingAndGlyphs" transform="rotate(-90.00 451.81 711.71)">0.74</text>
<text x="471.68" y="548.85" font-size="10.73" text-anchor="start" textLength="28.97" lengthAdjust="spacingAndGlyphs" transform="rotate(-90.00 471.68 548.85)">62.84</text>
<text x="481.62" y="518.14" font-size="10.73" text-anchor="start" textLength="28.97" lengthAdjust="spacingAndGlyphs" transform="rotate(-90.00 481.62 518.14)">74.55</text>
<text x="491.55" y="515.68" font-size="10.73" text-anchor="start" textLength="28.97" lengthAdjust="spacingAndGlyphs" transform="rotate(-90.00 491.55 515.68)">75.49</text>
<text x="501.49" y="712.02" font-size="10.73" text-anchor="start" textLength="22.53" lengthAdjust="spacingAndGlyphs" transform="rotate(-90.00 501.49 712.02)">0.62</text>
<text x="521.36" y="540.69" font-size="10.73" text-anchor="start" textLength="28.97" lengthAdjust="spacingAndGlyphs" transform="rotate(-90.00 521.36 540.69)">65.95</text>
<text x="531.29" y="510.09" font-size="10.73" text-anchor="start" textLength="28.97" lengthAdjust="spacingAndGlyphs" transform="rotate(-90.00 531.29 510.09)">77.62</text>
<text x="541.23" y="509.20" font-size="10.73" text-anchor="start" textLength="28.97" lengthAdjust="spacingAndGlyphs" transform="rotate(-90.00 541.23 509.20)">77.96</text>
<text x="551.16" y="711.95" font-size="10.73" text-anchor="start" textLength="22.53" lengthAdjust="spacingAndGlyphs" transform="rotate(-90.00 551.16 711.95)">0.65</text>
<text x="571.03" y="508.54" font-size="10.73" text-anchor="start" textLength="28.97" lengthAdjust="spacingAndGlyphs" transform="rotate(-90.00 571.03 508.54)">78.21</text>
<text x="580.97" y="484.91" font-size="10.73" text-anchor="start" textLength="28.97" lengthAdjust="spacingAndGlyphs" transform="rotate(-90.00 580.97 484.91)">87.22</text>
<text x="590.90" y="492.70" font-size="10.73" text-anchor="start" textLength="28.97" lengthAdjust="spacingAndGlyphs" transform="rotate(-90.00 590.90 492.70)">84.25</text>
<text x="600.84" y="711.58" font-size="10.73" text-anchor="start" textLength="22.53" lengthAdjust="spacingAndGlyphs" transform="rotate(-90.00 600.84 711.58)">0.79</text>
<text x="620.71" y="503.98" font-size="10.73" text-anchor="start" textLength="28.97" lengthAdjust="spacingAndGlyphs" transform="rotate(-90.00 620.71 503.98)">79.95</text>
<text x="630.64" y="473.56" font-size="10.73" text-anchor="start" textLength="28.97" lengthAdjust="spacingAndGlyphs" transform="rotate(-90.00 630.64 473.56)">91.55</text>
<text x="640.58" y="471.46" font-size="10.73" text-anchor="start" textLength="28.97" lengthAdjust="spacingAndGlyphs" transform="rotate(-90.00 640.58 471.46)">92.35</text>
<text x="650.52" y="711.47" font-size="10.73" text-anchor="start" textLength="22.53" lengthAdjust="spacingAndGlyphs" transform="rotate(-90.00 650.52 711.47)">0.83</text>
<rect x="37.10" y="461.10" width="644.80" height="254.30" fill="none" stroke="#7a7a7a" stroke-width="1.4"/>
<line x1="34.10" y1="715.40" x2="37.10" y2="715.40" stroke="#7a7a7a" stroke-width="1.4"/>
<text x="31.10" y="719.80" font-size="10.73" text-anchor="end" textLength="6.44" lengthAdjust="spacingAndGlyphs">0</text>
<line x1="34.10" y1="662.95" x2="37.10" y2="662.95" stroke="#7a7a7a" stroke-width="1.4"/>
<text x="31.10" y="667.35" font-size="10.73" text-anchor="end" textLength="12.88" lengthAdjust="spacingAndGlyphs">20</text>
<line x1="34.10" y1="610.50" x2="37.10" y2="610.50" stroke="#7a7a7a" stroke-width="1.4"/>
<text x="31.10" y="614.90" font-size="10.73" text-anchor="end" textLength="12.88" lengthAdjust="spacingAndGlyphs">40</text>
<line x1="34.10" y1="558.05" x2="37.10" y2="558.05" stroke="#7a7a7a" stroke-width="1.4"/>
<text x="31.10" y="562.45" font-size="10.73" text-anchor="end" textLength="12.88" lengthAdjust="spacingAndGlyphs">60</text>
<line x1="34.10" y1="505.60" x2="37.10" y2="505.60" stroke="#7a7a7a" stroke-width="1.4"/>
<text x="31.10" y="510.00" font-size="10.73" text-anchor="end" textLength="12.88" lengthAdjust="spacingAndGlyphs">80</text>
<line x1="86.28" y1="715.40" x2="86.28" y2="718.40" stroke="#7a7a7a" stroke-width="1.4"/>
<text x="83.94" y="727.94" font-size="11.13" text-anchor="end" textLength="73.48" lengthAdjust="spacingAndGlyphs" transform="rotate(-45.00 83.94 727.94)">CVTStego-Net</text>
<line x1="135.96" y1="715.40" x2="135.96" y2="718.40" stroke="#7a7a7a" stroke-width="1.4"/>
<text x="133.61" y="727.94" font-size="11.13" text-anchor="end" textLength="57.18" lengthAdjust="spacingAndGlyphs" transform="rotate(-45.00 133.61 727.94)">GTSCT-Net</text>
<line x1="185.63" y1="715.40" x2="185.63" y2="718.40" stroke="#7a7a7a" stroke-width="1.4"/>
<text x="183.29" y="727.94" font-size="11.13" text-anchor="end" textLength="38.02" lengthAdjust="spacingAndGlyphs" transform="rotate(-45.00 183.29 727.94)">HSVGG</text>
<line x1="235.31" y1="715.40" x2="235.31" y2="718.40" stroke="#7a7a7a" stroke-width="1.4"/>
<text x="232.96" y="727.94" font-size="11.13" text-anchor="end" textLength="48.89" lengthAdjust="spacingAndGlyphs" transform="rotate(-45.00 232.96 727.94)">MSP-CNN</text>
<line x1="284.99" y1="715.40" x2="284.99" y2="718.40" stroke="#7a7a7a" stroke-width="1.4"/>
<text x="282.64" y="727.94" font-size="11.13" text-anchor="end" textLength="46.52" lengthAdjust="spacingAndGlyphs" transform="rotate(-45.00 282.64 727.94)">Yedroudj</text>
<line x1="334.66" y1="715.40" x2="334.66" y2="718.40" stroke="#7a7a7a" stroke-width="1.4"/>
<text x="332.32" y="727.94" font-size="11.13" text-anchor="end" textLength="19.67" lengthAdjust="spacingAndGlyphs" transform="rotate(-45.00 332.32 727.94)">LEA</text>
<line x1="384.34" y1="715.40" x2="384.34" y2="718.40" stroke="#7a7a7a" stroke-width="1.4"/>
<text x="381.99" y="727.94" font-size="11.13" text-anchor="end" textLength="22.20" lengthAdjust="spacingAndGlyphs" transform="rotate(-45.00 381.99 727.94)">MLR</text>
<line x1="434.01" y1="715.40" x2="434.01" y2="718.40" stroke="#7a7a7a" stroke-width="1.4"/>
<text x="431.67" y="727.94" font-size="11.13" text-anchor="end" textLength="40.11" lengthAdjust="spacingAndGlyphs" transform="rotate(-45.00 431.67 727.94)">RL-GAN</text>
<line x1="483.69" y1="715.40" x2="483.69" y2="718.40" stroke="#7a7a7a" stroke-width="1.4"/>
<text x="481.35" y="727.94" font-size="11.13" text-anchor="end" textLength="100.62" lengthAdjust="spacingAndGlyphs" transform="rotate(-45.00 481.35 727.94)">Proposed with SVM</text>
<line x1="533.37" y1="715.40" x2="533.37" y2="718.40" stroke="#7a7a7a" stroke-width="1.4"/>
<text x="531.02" y="727.94" font-size="11.13" text-anchor="end" textLength="106.95" lengthAdjust="spacingAndGlyphs" transform="rotate(-45.00 531.02 727.94)">Proposed with PSVM</text>
<line x1="583.04" y1="715.40" x2="583.04" y2="718.40" stroke="#7a7a7a" stroke-width="1.4"/>
<text x="580.70" y="727.94" font-size="11.13" text-anchor="end" textLength="90.14" lengthAdjust="spacingAndGlyphs" transform="rotate(-45.00 580.70 727.94)">Proposed w/o HO</text>
<line x1="632.72" y1="715.40" x2="632.72" y2="718.40" stroke="#7a7a7a" stroke-width="1.4"/>
<text x="630.38" y="727.94" font-size="11.13" text-anchor="end" textLength="48.76" lengthAdjust="spacingAndGlyphs" transform="rotate(-45.00 630.38 727.94)">Proposed</text>
<text x="12.90" y="589.40" font-size="11.08" text-anchor="middle" textLength="34.94" lengthAdjust="spacingAndGlyphs" transform="rotate(-90.00 12.90 589.40)">Scores</text>
<rect x="179.00" y="427.70" width="361.70" height="18.60" rx="2.5" fill="#fff" fill-opacity="0.8" stroke="#d6d6d6" stroke-width="0.9"/>
<rect x="182.40" y="432.90" width="21.20" height="7.30" fill="#0000ff"/>
<text x="212.83" y="441.00" font-size="10.73" textLength="46.34" lengthAdjust="spacingAndGlyphs">Accuracy</text>
<rect x="281.00" y="432.90" width="21.20" height="7.30" fill="#008000"/>
<text x="310.74" y="441.00" font-size="10.73" textLength="53.91" lengthAdjust="spacingAndGlyphs">F-Measure</text>
<rect x="386.60" y="432.90" width="21.20" height="7.30" fill="#ff0000"/>
<text x="415.67" y="441.00" font-size="10.73" textLength="47.50" lengthAdjust="spacingAndGlyphs">G-means</text>
<rect x="484.40" y="432.90" width="21.20" height="7.30" fill="#800080"/>
<text x="514.23" y="441.00" font-size="10.73" textLength="20.90" lengthAdjust="spacingAndGlyphs">AUC</text>
<rect x="37.5" y="678.1" width="644" height="1" fill="#fff" fill-opacity="0.12"/>
<text x="330.9" y="414.2" style='font-family:"Liberation Serif", serif;fill:#111;stroke:#111;stroke-width:0.3px' font-size="21.6">a)</text>
<text x="324.5" y="831.4" style='font-family:"Liberation Serif", serif;fill:#111;stroke:#111;stroke-width:0.3px' font-size="21.6">b)</text>
</svg>
</body></html>
